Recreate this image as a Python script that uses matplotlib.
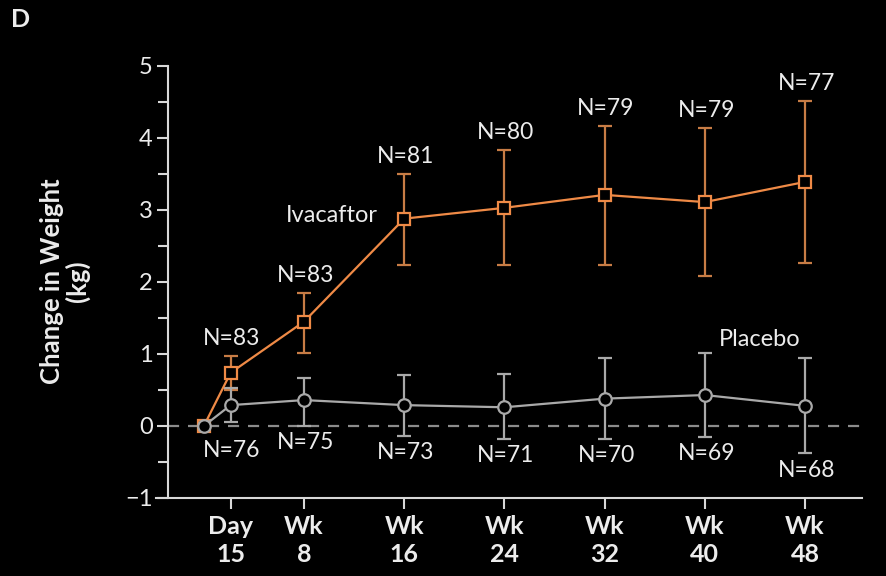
import numpy as np
import matplotlib.pyplot as plt

plt.rcParams['font.family'] = ['Lato', 'DejaVu Sans']

# visit times in weeks (baseline, day 15, then every 8 weeks)
weeks = [0, 15 / 7, 8, 16, 24, 32, 40, 48]
tick_labels = ["Day\n15", "Wk\n8", "Wk\n16", "Wk\n24", "Wk\n32", "Wk\n40", "Wk\n48"]

iva_mean = [0, 0.74, 1.45, 2.88, 3.03, 3.21, 3.11, 3.39]
iva_low = [0, 0.50, 1.02, 2.23, 2.23, 2.23, 2.09, 2.27]
iva_high = [0, 0.97, 1.85, 3.50, 3.83, 4.17, 4.14, 4.51]
iva_n = [83, 83, 81, 80, 79, 79, 77]

pla_mean = [0, 0.29, 0.36, 0.29, 0.26, 0.38, 0.43, 0.28]
pla_low = [0, 0.06, 0.00, -0.14, -0.18, -0.18, -0.15, -0.38]
pla_high = [0, 0.53, 0.67, 0.71, 0.72, 0.95, 1.02, 0.95]
pla_n = [76, 75, 73, 71, 70, 69, 68]

orange = "#ef8a46"
orange_err = "#c77c45"
grey = "#a9a9a9"
txt = "#ececec"

fig = plt.figure(figsize=(8.87, 5.76), dpi=100, facecolor="black")
ax = fig.add_axes([168 / 887, 1 - 498 / 576, (862 - 168) / 887, (498 - 66) / 576])
ax.set_facecolor("black")

ax.axhline(0, color="#8c8c8c", lw=1.6, ls=(0, (5, 4)), zorder=1)

x = np.array(weeks)
for mean, low, high, col, ecol, mk, ms in [
    (iva_mean, iva_low, iva_high, orange, orange_err, "s", 8.5),
    (pla_mean, pla_low, pla_high, grey, grey, "o", 9),
]:
    mean = np.array(mean)
    yerr = [mean[1:] - np.array(low[1:]), np.array(high[1:]) - mean[1:]]
    ax.errorbar(x[1:], mean[1:], yerr=yerr, fmt="none", ecolor=ecol,
                elinewidth=1.6, capsize=5, capthick=1.6, zorder=2)
    ax.plot(x, mean, color=col, lw=1.6, marker=mk, ms=ms, mfc="black",
            mec=col, mew=1.6, zorder=3)

# sample sizes above / below the error bars
for i, n in enumerate(iva_n):
    ax.annotate(f"N={n}", (x[i + 1], iva_high[i + 1]), xytext=(1, 12.5),
                textcoords="offset points", ha="center", va="center",
                color=txt, fontsize=16.5)
pla_extra = [-9, 0, 0, 0, 0, 0, 0]
for i, n in enumerate(pla_n):
    ax.annotate(f"N={n}", (x[i + 1], pla_low[i + 1]), xytext=(1, -12 + pla_extra[i]),
                textcoords="offset points", ha="center", va="center",
                color=txt, fontsize=16.5)

ax.text(10.2, 2.93, "Ivacaftor", color=txt, fontsize=17, ha="center", va="center")
ax.text(44.4, 1.2, "Placebo", color=txt, fontsize=17, ha="center", va="center")

ax.set_xlim(-2.86, 52.55)
ax.set_ylim(-1, 5)
ax.set_xticks(x[1:])
ax.set_xticklabels(tick_labels, fontsize=18, fontweight="bold", color=txt,
                   linespacing=1.3)
ax.set_yticks(range(-1, 6))
ax.set_yticks(np.arange(-0.5, 5, 1), minor=True)
ax.set_yticklabels([str(v).replace("-", "\u2212") for v in range(-1, 6)],
                   fontsize=17, color=txt)

for side in ["top", "right"]:
    ax.spines[side].set_visible(False)
for side in ["left", "bottom"]:
    ax.spines[side].set_color("#d8d8d8")
    ax.spines[side].set_linewidth(1.5)
ax.spines["bottom"].set_bounds(-2.86 - 0.95, 52.55)
ax.spines["bottom"].set_clip_on(False)
ax.tick_params(axis="both", which="both", direction="out", color="#d8d8d8", width=1.5)
ax.tick_params(axis="both", which="major", length=8, pad=3)
ax.tick_params(axis="x", which="major", pad=4)
ax.tick_params(axis="y", which="minor", length=7)

fig.text(65 / 887, 1 - 281 / 576, "Change in Weight\n(kg)", rotation=90,
         ha="center", va="center", multialignment="center",
         fontsize=18.5, fontweight="bold", color=txt, linespacing=1.05)
fig.text(11 / 887, 1 - 8 / 576, "D", ha="left", va="top", fontsize=18,
         fontweight="bold", color=txt)

fig.savefig("out.png", dpi=100, facecolor="black")
